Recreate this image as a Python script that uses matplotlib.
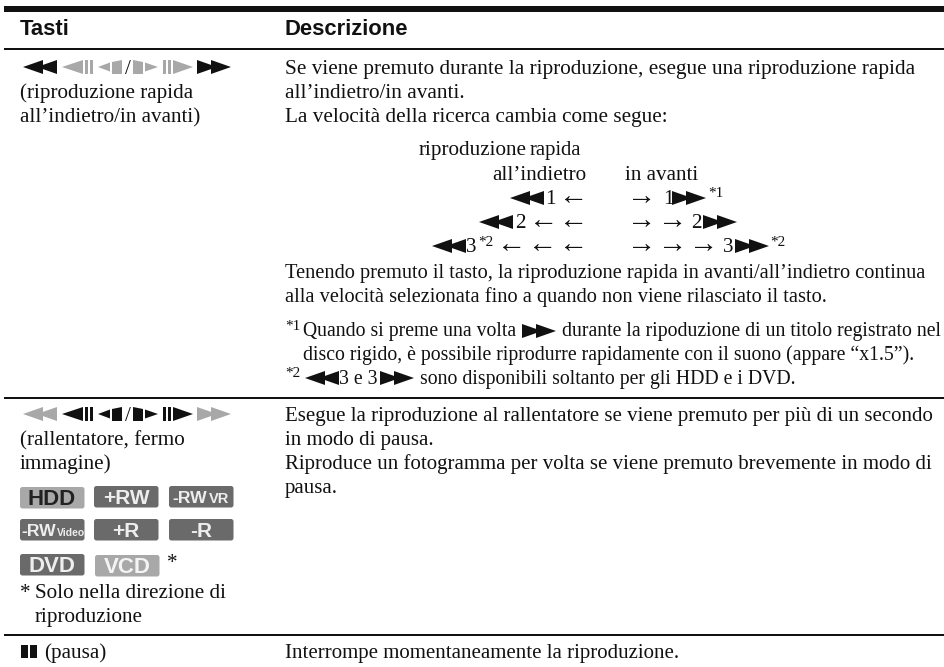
import matplotlib
matplotlib.use("Agg")
import matplotlib.pyplot as plt
from matplotlib.patches import FancyBboxPatch, Polygon, Rectangle

SERIF = "Liberation Serif"
SANS = "Liberation Sans"
BLACK = "#111111"
LIGHT = "#a8a8a8"
DARK = "#6a6a6a"

headers = ["Tasti", "Descrizione"]
left_col = [
    ("(riproduzione rapida", 20, 98), ("all\u2019indietro/in avanti)", 20, 122),
    ("(rallentatore, fermo", 20, 445), ("immagine)", 20, 469),
    ("*", 20, 598), ("Solo nella direzione di", 35, 598), ("riproduzione", 35, 622),
    ("(pausa)", 44, 658),
]
right_col = [
    ("Se viene premuto durante la riproduzione, esegue una riproduzione rapida", 74, 15.3),
    ("all\u2019indietro/in avanti.", 98, 15.3),
    ("La velocit\u00e0 della ricerca cambia come segue:", 122, 15.3),
    ("Tenendo premuto il tasto, la riproduzione rapida in avanti/all\u2019indietro continua", 278, 14.7),
    ("alla velocit\u00e0 selezionata fino a quando non viene rilasciato il tasto.", 302, 14.7),
    ("Esegue la riproduzione al rallentatore se viene premuto per pi\u00f9 di un secondo", 421, 15.0),
    ("in modo di pausa.", 445, 15.0),
    ("Riproduce un fotogramma per volta se viene premuto brevemente in modo di", 469, 15.0),
    ("pausa.", 493, 15.0),
    ("Interrompe momentaneamente la riproduzione.", 658, 15.0),
]
# text, small suffix, x, top, fill, text colour
disc_labels = [
    ("HDD", "", 20, 487, LIGHT, "#222222"), ("+RW", "", 94, 486, DARK, "#eeeeee"),
    ("-RW", "VR", 169, 486, DARK, "#eeeeee"), ("-RW", "Video", 20, 519, DARK, "#eeeeee"),
    ("+R", "", 94, 519, DARK, "#eeeeee"), ("-R", "", 169, 519, DARK, "#eeeeee"),
    ("DVD", "", 20, 554, DARK, "#eeeeee"), ("VCD", "", 95, 555, LIGHT, "#f4f4f4"),
]

fig = plt.figure(figsize=(9.45, 6.67), dpi=100)
ax = fig.add_axes([0, 0, 1, 1])
ax.set_xlim(0, 945)
ax.set_ylim(667, 0)
ax.axis("off")


def serif(x, y, s, size=15.2, **kw):
    ax.text(x, y, s, family=SERIF, fontsize=size, color=BLACK, va="baseline", **kw)


def tri(x, y, w, h, right=False, color=BLACK):
    pts = [(x, y), (x + w, y - h / 2), (x + w, y + h / 2)]
    if right:
        pts = [(x + w, y), (x, y - h / 2), (x, y + h / 2)]
    ax.add_patch(Polygon(pts, closed=True, fc=color, ec="none"))


def rewind(x, y, color=BLACK):
    tri(x, y, 20, 14, color=color)
    tri(x + 14, y, 20, 14, color=color)


def forward(x, y, color=BLACK):
    tri(x, y, 20, 14, right=True, color=color)
    tri(x + 14, y, 20, 14, right=True, color=color)


def bars(x, y, color, w=3, gap=2, h=14):
    for i in range(2):
        ax.add_patch(Rectangle((x + i * (w + gap), y - h / 2), w, h, fc=color, ec="none"))


def key_row(y, outer, middle):
    # the strip of transport symbols at the head of a row
    rewind(23, y, outer)
    tri(62, y, 21, 14, color=middle)
    bars(85, y, middle)
    tri(98, y, 12, 9, color=middle)
    ax.add_patch(Polygon([(112, y - 5), (122, y - 7), (122, y + 7), (112, y + 7)], fc=middle, ec="none"))
    ax.text(128, y + 7, "/", family=SERIF, fontsize=15.2, color=BLACK, ha="center")
    ax.add_patch(Polygon([(133, y - 7), (143, y - 5), (143, y + 7), (133, y + 7)], fc=middle, ec="none"))
    tri(145, y, 13, 9, right=True, color=middle)
    bars(163, y, middle)
    tri(173, y, 20, 14, right=True, color=middle)
    forward(197, y, outer)


def arrows(xs, y, right=False):
    for x in xs:
        s = "\u2192" if right else "\u2190"
        ax.text(x - 3, y, s, family=SERIF, fontsize=21, color=BLACK, va="baseline")


# rules
ax.add_patch(Rectangle((4, 6), 941, 6, fc=BLACK, ec="none"))
ax.add_patch(Rectangle((4, 48), 941, 2, fc=BLACK, ec="none"))
ax.add_patch(Rectangle((4, 397), 941, 1.5, fc=BLACK, ec="none"))
ax.add_patch(Rectangle((4, 634), 941, 1.5, fc=BLACK, ec="none"))

ax.text(20, 35, headers[0], family=SANS, weight="bold", fontsize=15.8, color=BLACK, va="baseline")
ax.text(285, 35, headers[1], family=SANS, weight="bold", fontsize=15.8, color=BLACK, va="baseline")

for s, x, y in left_col:
    serif(x, y, s)
for s, y, size in right_col:
    serif(285, y, s, size=size)

key_row(67, BLACK, LIGHT)
key_row(414, LIGHT, BLACK)
ax.add_patch(Rectangle((21, 645), 7, 13, fc=BLACK, ec="none"))
ax.add_patch(Rectangle((30, 645), 7, 13, fc=BLACK, ec="none"))

# disc badges
for s, small, x, y, fc, tc in disc_labels:
    ax.add_patch(FancyBboxPatch((x, y), 64.5, 21.5, boxstyle="round,pad=0,rounding_size=2.5", fc=fc, ec="none"))
    if small == "VR":
        ax.text(x + 3, y + 17, s, family=SANS, weight="bold", fontsize=12.6, color=tc)
        ax.text(x + 40, y + 17, small, family=SANS, weight="bold", fontsize=10.5, color=tc)
    elif small == "Video":
        ax.text(x + 1, y + 17, s, family=SANS, weight="bold", fontsize=12.6, color=tc)
        ax.text(x + 37, y + 17, small, family=SANS, weight="bold", fontsize=7.5, color=tc)
    else:
        size = 16 if s in ("HDD", "DVD", "VCD") else 15
        ax.text(x + 32, y + 18, s, family=SANS, weight="bold", fontsize=size, color=tc, ha="center")
serif(167, 568, "*")

# speed diagram
serif(419, 155, "riproduzione", size=15.2)
serif(530, 155, "rapida", size=14.9)
serif(492, 180, "all\u2019indietro")
serif(625, 180, "in avanti")
rewind(510, 198)
serif(545, 204, "1")
arrows([562], 204)
arrows([630], 204, True)
serif(663, 204, "1")
forward(672, 198)
serif(708, 197, "*1", size=11)
rewind(479, 222)
serif(515, 228, "2")
arrows([532, 562], 228)
arrows([630, 661], 228, True)
serif(691, 228, "2")
forward(703, 222)
rewind(432, 246)
serif(466, 252, "3")
serif(478, 246, "*2", size=11)
arrows([500, 531, 562], 252)
arrows([630, 661, 692], 252, True)
serif(723, 252, "3")
forward(735, 246)
serif(770, 246, "*2", size=11)

# footnotes
FOOT = 14.2
serif(285, 330, "*1", size=11)
serif(303, 336, "Quando si preme una volta", size=FOOT)
forward(522, 331)
serif(562, 336, "durante la ripoduzione di un titolo registrato nel", size=FOOT)
serif(303, 360, "disco rigido, \u00e8 possibile riprodurre rapidamente con il suono (appare \u201cx1.5\u201d).", size=FOOT)
serif(285, 377, "*2", size=11)
rewind(305, 378)
serif(339, 384, "3 e 3", size=FOOT)
forward(380, 378)
serif(420, 384, "sono disponibili soltanto per gli HDD e i DVD.", size=FOOT)

fig.savefig("out.png", dpi=100)
